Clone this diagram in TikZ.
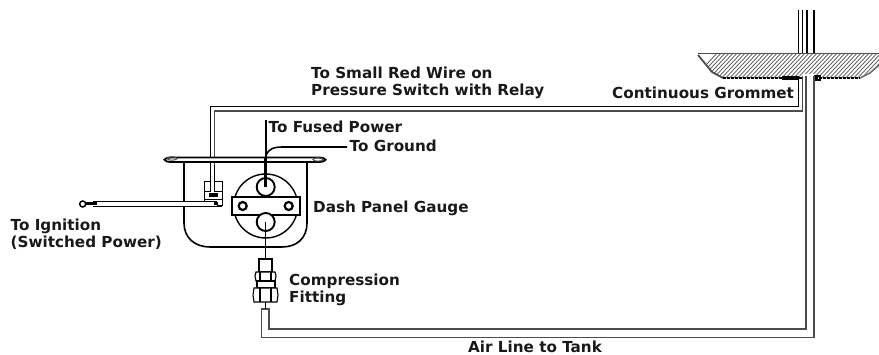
\documentclass[tikz,border=0pt]{standalone}
\usepackage{fontspec}
\setmainfont{DejaVu Sans}[BoldFont={DejaVu Sans Bold}]
\begin{document}
\begin{tikzpicture}[x=1pt,y=-1pt,
  lbl/.style={anchor=base west,inner sep=0pt,font=\fontsize{15.2}{17}\selectfont\bfseries,align=left,text=black!90},
  lblm/.style={lbl,anchor=west},
  thin line/.style={draw=black,line width=1.1pt},
  wire/.style={draw=black!70,line width=1.2pt},
  thick line/.style={draw=black,line width=1.6pt}]
\useasboundingbox (0,0) rectangle (879,355);
% vertical lines above the panel
\foreach \x in {798.3,802.7,807,814}{\draw[thin line] (\x,10) -- (\x,54);}
% panel
\begin{scope}
\clip (698,54) -- (879,54) -- (879,65) -- (860,78) -- (723,78) -- (712,72) -- cycle;
\foreach \i in {0,4,...,240}{\draw[black!70,line width=0.7pt] (690+\i,82) -- (720+\i,50);}
\end{scope}
\draw[black!70,line width=1pt] (698,54) -- (879,54);
\draw[black!70,line width=1.8pt] (698,55) -- (712,72) -- (723,78);
\draw[black,line width=1.2pt,dash pattern=on 3pt off 1pt] (723,78) -- (860,78);
\draw[black!60,line width=1.5pt] (860,78) -- (870,73) -- (879,65);
% grommet
\fill[black] (782,76) rectangle (798,80);
\fill[white] (802,74) rectangle (814,80);
\draw[thin line] (815,76) rectangle (820,80);
% relay wire
\draw[thin line] (798.3,76) -- (798.3,106.5) -- (210.7,106.5) -- (210.7,190);
\draw[wire] (802.7,76) -- (802.7,111) -- (214.5,111) -- (214.5,190);
% air line
\draw[wire] (806,76) -- (806,329) -- (269,329) -- (269,309) -- (261.7,309) -- (261.7,337.5) -- (814,337.5) -- (814,76);
% gauge cup
\draw[draw=black,line width=1.8pt,fill=white] (172,157.5) -- (318,157.5) .. controls (328,157.5) and (328,162) .. (318,162) -- (172,162) .. controls (162,162) and (162,157.5) .. (172,157.5);
\draw[draw=black!70,line width=1pt] (172,158.5) ellipse (5 and 1.7) (318,159.5) ellipse (5 and 1.7);
\draw[thick line] (184,163) -- (184,223) .. controls (184,238) and (195,247) .. (210,247) -- (282,247) .. controls (297,247) and (307,238) .. (307,223) -- (307,163);
% gauge face
\draw[draw=black,line width=1.4pt] (265.7,206) circle (32);
% switch block
\draw[draw=black,line width=1pt,fill=white] (204,182) rectangle (222,206);
\draw[draw=black,line width=1pt] (204,192) -- (222,192) (213,182) -- (213,192) (204,200) -- (222,200);
\fill[black] (209,193) rectangle (218,197);
\draw[thin line,fill=white] (210.7,165) -- (210.7,192) (214.5,165) -- (214.5,192);
\fill[white] (211.2,165) rectangle (214,192);
% ignition wire
\fill[white] (93,201.3) rectangle (217,206.5);
\draw[draw=black,line width=0.9pt] (93,201.3) -- (217,201.3) (93,206.5) -- (222,206.5);
\fill[black] (214,202) rectangle (218,205.5);
\fill[black] (85,202.5) rectangle (97,205.5);
\draw[draw=black,line width=1.5pt,fill=white] (82.7,204) circle (3);
% bar and bolts
\draw[draw=black,line width=1.3pt,fill=white] (232,197) rectangle (300,215);
\foreach \x in {242.7,288.7}{\draw[draw=black,line width=2.2pt,fill=white] (\x,206) circle (4);}
% posts
\draw[draw=black,line width=1.9pt,fill=white] (265.7,187) circle (9);
\draw[draw=black,line width=1.9pt,fill=white] (265.7,222) circle (9);
% fused power and ground
\draw[draw=black,line width=1.6pt] (265.7,120) -- (265.7,157);
\draw[draw=black,line width=3.2pt] (265.7,157) -- (265.7,187);
\draw[draw=black,line width=1.6pt] (266,155) .. controls (269,149) and (273,147) .. (283,147) -- (347,147);
% stem and fitting
\draw[thin line] (265.7,222) -- (265.7,259) (261,259) -- (271,259);
\draw[thin line,fill=white] (259,259) rectangle (272,272);
\draw[thin line,fill=white] (256,272) -- (275,272) -- (276,276) -- (275,281) -- (256,281) -- (255,276) -- cycle;
\draw[thin line] (260,272) -- (260,281) (271,272) -- (271,281);
\draw[thin line,fill=white] (257,281) rectangle (275,288);
\draw[thin line,fill=white] (254,288) -- (277,288) -- (278,295) -- (277,302) -- (254,302) -- (253,295) -- cycle;
\draw[thin line] (260,288) -- (260,302) (271,288) -- (271,302);
\draw[thin line] (265.7,302) -- (265.7,309);
% labels
\node[lblm] (relay) at (311,82.5) {To Small Red Wire on\\Pressure Switch with Relay};
\node[lbl] (grommet) at (612,99) {Continuous Grommet};
\node[lbl] (fused) at (268.5,133) {To Fused Power};
\node[lbl] (ground) at (349.5,152) {To Ground};
\node[lbl] (dash) at (313,212.7) {Dash Panel Gauge};
\node[lblm] (ign) at (10.5,234.5) {To Ignition\\(Switched Power)};
\node[lblm] (fit) at (289,290.3) {Compression\\Fitting};
\node[lbl] (air) at (468,352.5) {Air Line to Tank};
\end{tikzpicture}
\end{document}
